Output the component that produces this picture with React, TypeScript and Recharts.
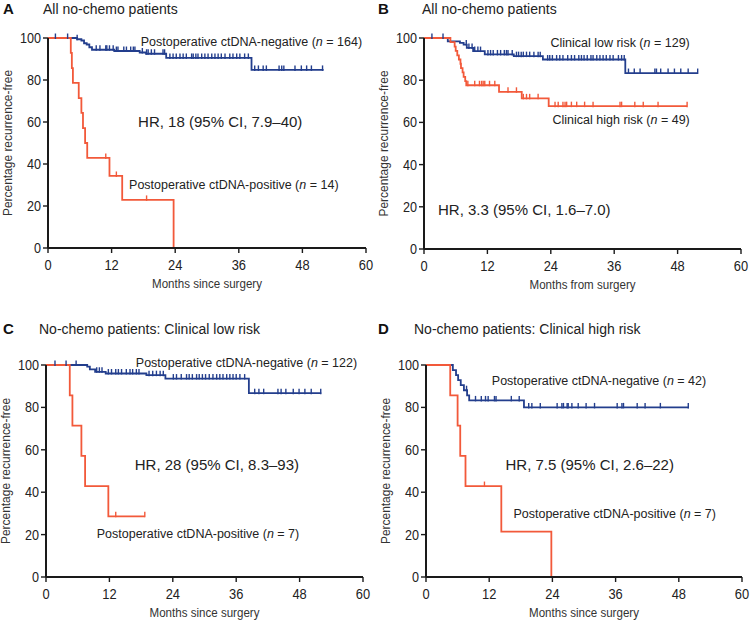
import { ComposedChart, Line, Scatter, XAxis, YAxis, ReferenceDot } from "recharts";

const FONT = '"Liberation Sans", Arial, Helvetica, sans-serif';
const BLUE = "#233e8d";
const RED = "#f2593a";
const INK = "#222";

const xTicks = [0, 12, 24, 36, 48, 60];
const yTicks = [0, 20, 40, 60, 80, 100];

// Kaplan-Meier steps as [month, % recurrence-free]
const aNegSteps = [[0, 100], [5.5, 99.4], [6.3, 98.8], [6.8, 97.5], [7.3, 96.9], [7.8, 95.6], [8.3, 94.4], [12.5, 93.8], [17.3, 93.1], [18.5, 92.5], [22.3, 90.5], [38.4, 84.8], [52, 84.8]];
const aNegCensor = [1.4, 3.7, 5.5, 9.1, 9.8, 10.9, 11.1, 11.6, 12.3, 12.9, 13.2, 14.3, 14.8, 15.6, 16.1, 16.4, 17.8, 18.6, 18.9, 19.5, 20.1, 21.7, 22.0, 23, 23.6, 24.2, 24.9, 25.5, 26.1, 27.1, 27.4, 27.9, 28.3, 29, 29.6, 30.2, 30.9, 31.5, 32.1, 32.7, 33.4, 34.3, 34.9, 35.6, 36.2, 37.1, 37.8, 39.0, 39.7, 40.6, 41.2, 43.6, 44.1, 44.5, 46.6, 47.8, 48.8, 49.7, 51.8];
const aPosSteps = [[0, 100], [4.3, 92.9], [4.5, 85.7], [4.7, 78.6], [5.8, 71.4], [6.3, 64.3], [6.6, 57.1], [7.0, 50], [7.4, 42.9], [11.6, 34.3], [14, 22.9], [23.7, 0]];
const aPosCensor = [10.9, 12.9, 18.6];

const bLowSteps = [[0, 100], [4.5, 98.4], [6.8, 97.7], [7.5, 96.9], [8.1, 95.3], [9.3, 93.8], [11.5, 92.2], [17, 91.4], [22.5, 89.8], [38.1, 83.4], [51.8, 83.4]];
const bLowCensor = [1.5, 3.6, 8.0, 8.5, 9.1, 9.6, 10.2, 10.7, 12.1, 12.6, 13.1, 13.9, 14.5, 15.2, 15.6, 15.9, 16.7, 17.5, 17.9, 18.4, 18.8, 19.4, 20, 20.8, 21.6, 22, 23.4, 23.8, 24.3, 25.1, 25.7, 26.3, 27.2, 27.9, 28.5, 29.3, 29.8, 30.3, 30.9, 31.6, 32, 32.7, 33.3, 33.9, 34.5, 35.2, 35.8, 36.8, 37.4, 37.9, 38.7, 39.8, 40.9, 43.7, 44, 44.8, 46.2, 47.4, 48.6, 50, 51.8];
const bHighSteps = [[0, 100], [5.0, 98], [5.8, 95.9], [6.0, 93.9], [6.3, 91.8], [6.6, 89.8], [6.9, 87.8], [7.0, 85.7], [7.3, 83.7], [7.5, 81.6], [7.8, 79.6], [8.0, 77.6], [14.2, 74.5], [18.5, 71.4], [23.6, 67.7], [49.8, 67.7]];
const bHighCensor = [8.3, 9.6, 10.5, 10.9, 11.2, 11.5, 12.4, 13.4, 15.9, 17.5, 18.8, 19.4, 20, 21.6, 24.8, 25.4, 26.3, 26.7, 27, 27.9, 28.9, 30.4, 32, 37.1, 37.4, 39.9, 41.5, 44.3, 49.8];

const cNegSteps = [[0, 100], [7.8, 99.2], [8.3, 97.9], [9.3, 96.8], [11.3, 96], [19, 95.2], [22.6, 93.6], [38.4, 86.7], [52.1, 86.7]];
const cNegCensor = [1.7, 3.8, 5.7, 9.6, 10.1, 10.6, 11.8, 12.4, 13.2, 13.7, 14.3, 15.2, 15.9, 16.4, 17.1, 17.6, 19.5, 20.2, 20.9, 21.6, 22.2, 24.1, 24.7, 25.6, 26.6, 27.1, 27.7, 28.5, 29, 29.6, 30.2, 30.9, 31.6, 32.3, 32.9, 33.5, 34.2, 34.8, 35.4, 36, 36.7, 37.6, 39.5, 40.3, 41.2, 43.9, 44.5, 45.4, 46.8, 47.9, 49, 50.2, 52];
const cPosSteps = [[0, 100], [4.5, 85.7], [5.0, 71.4], [6.7, 57.1], [7.4, 42.9], [11.8, 28.6], [18.7, 28.6]];
const cPosCensor = [13.2, 18.7];

const dNegSteps = [[0, 100], [5.1, 97.6], [5.7, 95.2], [6.1, 92.9], [6.6, 90.5], [7.2, 88.1], [7.8, 85.7], [8.2, 83.3], [18.6, 80], [49.9, 80]];
const dNegCensor = [7.7, 9.4, 10.5, 11.3, 11.8, 13, 13.3, 16.2, 17.7, 19.5, 20.1, 21.7, 24.9, 25.8, 26.1, 26.8, 27, 27.7, 28.9, 30.4, 32, 36.3, 37.2, 37.5, 40.1, 41.6, 44.5, 49.8];
const dPosSteps = [[0, 100], [4.6, 85.7], [6.0, 71.4], [6.5, 57.1], [7.5, 42.9], [14.3, 21.4], [23.8, 0]];
const dPosCensor = [11.1];

const pts = (a: number[][]) => a.map(([t, s]) => ({ t, s }));
const levelAt = (steps: number[][], t: number) => {
  let s = steps[0][1];
  for (const [x, y] of steps) if (x <= t) s = y;
  return s;
};
const marks = (steps: number[][], ts: number[]) => ts.map((t) => ({ t, s: levelAt(steps, t) }));

const censorTick = (color: string) => (p: any) => (
  <line x1={p.cx} x2={p.cx} y1={p.cy - 4.5} y2={p.cy + 1} stroke={color} strokeWidth={1.4} />
);

type Note = { x: number; y: number; pre: string; n?: string; size: number; anchor?: "start" | "end" };

const noteShape = (nt: Note) => (p: any) => (
  <text x={p.cx} y={p.cy} fontSize={nt.size} fontFamily={FONT} fill={INK} textAnchor={nt.anchor || "start"}>
    {nt.pre}
    {nt.n !== undefined && <tspan fontStyle="italic">n</tspan>}
    {nt.n !== undefined && nt.n}
  </text>
);

const xTick = (p: any) => (
  <text x={p.x} y={p.y} dy="0.71em" textAnchor="middle" fontSize={14} fontFamily={FONT} fill={INK}
    transform={`translate(${p.x} 0) scale(0.92 1) translate(${-p.x} 0)`}>
    {p.payload.value}
  </text>
);
const yTick = (p: any) => (
  <text x={p.x} y={p.y} dy="0.36em" textAnchor="end" fontSize={14} fontFamily={FONT} fill={INK}
    transform={`translate(${p.x} 0) scale(0.9 1) translate(${-p.x} 0)`}>
    {p.payload.value}
  </text>
);

function Panel(props: any) {
  const { left, top, w, h, yW, right, plotTop, xH, letter, title, titleX, titleY, xLabel, neg, negC, pos, posC, notes } = props;
  return (
    <div style={{ position: "absolute", left, top, width: w, height: h }}>
      <div style={{ position: "absolute", left: 3, top: titleY - 9, lineHeight: "18px", fontSize: 15, fontWeight: "bold", fontFamily: FONT, color: "#111" }}>{letter}</div>
      <div style={{ position: "absolute", left: titleX, top: titleY - 9, lineHeight: "18px", fontSize: 14, fontFamily: FONT, color: INK }}>{title}</div>
      <ComposedChart width={w} height={h} margin={{ top: plotTop, right, bottom: 0, left: 0 }}>
        <XAxis
          type="number"
          dataKey="t"
          domain={[0, 60]}
          ticks={xTicks}
          height={xH}
          tickSize={5}
          tickMargin={7}
          axisLine={{ stroke: "#1a1a1a", strokeWidth: 2 }}
          tickLine={{ stroke: "#1a1a1a", strokeWidth: 1.4 }}
          tick={xTick}
          label={{
            content: (lp: any) => {
              const cx = lp.viewBox.x + lp.viewBox.width / 2;
              const cy = lp.viewBox.y + 40;
              return (
                <text x={0} y={0} transform={`translate(${cx} ${cy}) scale(0.89 1)`} textAnchor="middle" fontSize={13} fontFamily={FONT} fill="#333">
                  {xLabel}
                </text>
              );
            },
          }}
        />
        <YAxis
          type="number"
          domain={[0, 100]}
          ticks={yTicks}
          width={yW}
          tickSize={5}
          tickMargin={2}
          axisLine={{ stroke: "#1a1a1a", strokeWidth: 2 }}
          tickLine={{ stroke: "#1a1a1a", strokeWidth: 1.4 }}
          tick={yTick}
          label={{
            content: (lp: any) => {
              const cx = lp.viewBox.x + lp.viewBox.width - 40;
              const cy = lp.viewBox.y + lp.viewBox.height / 2;
              return (
                <text x={0} y={0} transform={`translate(${cx} ${cy}) rotate(-90) scale(0.92 1)`} textAnchor="middle" dominantBaseline="central" fontSize={13} fontFamily={FONT} fill="#333">
                  Percentage recurrence-free
                </text>
              );
            },
          }}
        />
        <Line data={pts(neg)} dataKey="s" type="stepAfter" stroke={BLUE} strokeWidth={1.8} dot={false} isAnimationActive={false} />
        <Line data={pts(pos)} dataKey="s" type="stepAfter" stroke={RED} strokeWidth={1.8} dot={false} isAnimationActive={false} />
        <Scatter data={marks(neg, negC)} dataKey="s" shape={censorTick(BLUE)} isAnimationActive={false} />
        <Scatter data={marks(pos, posC)} dataKey="s" shape={censorTick(RED)} isAnimationActive={false} />
        {notes.map((nt: Note, i: number) => (
          <ReferenceDot key={i} x={nt.x} y={nt.y} r={0} shape={noteShape(nt)} />
        ))}
      </ComposedChart>
    </div>
  );
}

const notesA: Note[] = [
  { x: 17.5, y: 96, pre: "Postoperative ctDNA-negative (", n: " = 164)", size: 12.5 },
  { x: 17.0, y: 57.8, pre: "HR, 18 (95% CI, 7.9\u201340)", size: 15 },
  { x: 15.3, y: 28.3, pre: "Postoperative ctDNA-positive (", n: " = 14)", size: 12.5 },
];
const notesB: Note[] = [
  { x: 50.3, y: 95.7, pre: "Clinical low risk (", n: " = 129)", size: 12.5, anchor: "end" },
  { x: 50.3, y: 59.2, pre: "Clinical high risk (", n: " = 49)", size: 12.5, anchor: "end" },
  { x: 2.65, y: 16.2, pre: "HR, 3.3 (95% CI, 1.6\u20137.0)", size: 15 },
];
const notesC: Note[] = [
  { x: 17.0, y: 98.9, pre: "Postoperative ctDNA-negative (", n: " = 122)", size: 12.5 },
  { x: 16.8, y: 50.7, pre: "HR, 28 (95% CI, 8.3\u201393)", size: 15 },
  { x: 9.6, y: 18.4, pre: "Postoperative ctDNA-positive (", n: " = 7)", size: 12.5 },
];
const notesD: Note[] = [
  { x: 12.5, y: 90.6, pre: "Postoperative ctDNA-negative (", n: " = 42)", size: 12.5 },
  { x: 15.1, y: 50.7, pre: "HR, 7.5 (95% CI, 2.6\u201322)", size: 15 },
  { x: 16.6, y: 27.6, pre: "Postoperative ctDNA-positive (", n: " = 7)", size: 12.5 },
];

export default function App() {
  return (
    <div style={{ position: "absolute", left: 0, top: 0, width: 750, height: 621, background: "#fff", overflow: "hidden" }}>
      <Panel left={0} top={0} w={375} h={310} yW={48} right={9} plotTop={38} xH={62} letter="A" title="All no-chemo patients" titleX={43} titleY={9}
        xLabel="Months since surgery" neg={aNegSteps} negC={aNegCensor} pos={aPosSteps} posC={aPosCensor} notes={notesA} />
      <Panel left={375} top={0} w={375} h={310} yW={49} right={9} plotTop={38} xH={61} letter="B" title="All no-chemo patients" titleX={47} titleY={9}
        xLabel="Months from surgery" neg={bLowSteps} negC={bLowCensor} pos={bHighSteps} posC={bHighCensor} notes={notesB} />
      <Panel left={0} top={310} w={375} h={311} yW={46} right={12} plotTop={55} xH={44} letter="C" title="No-chemo patients: Clinical low risk" titleX={39} titleY={19}
        xLabel="Months since surgery" neg={cNegSteps} negC={cNegCensor} pos={cPosSteps} posC={cPosCensor} notes={notesC} />
      <Panel left={375} top={310} w={375} h={311} yW={51} right={8} plotTop={55} xH={44} letter="D" title="No-chemo patients: Clinical high risk" titleX={39} titleY={19}
        xLabel="Months since surgery" neg={dNegSteps} negC={dNegCensor} pos={dPosSteps} posC={dPosCensor} notes={notesD} />
    </div>
  );
}
